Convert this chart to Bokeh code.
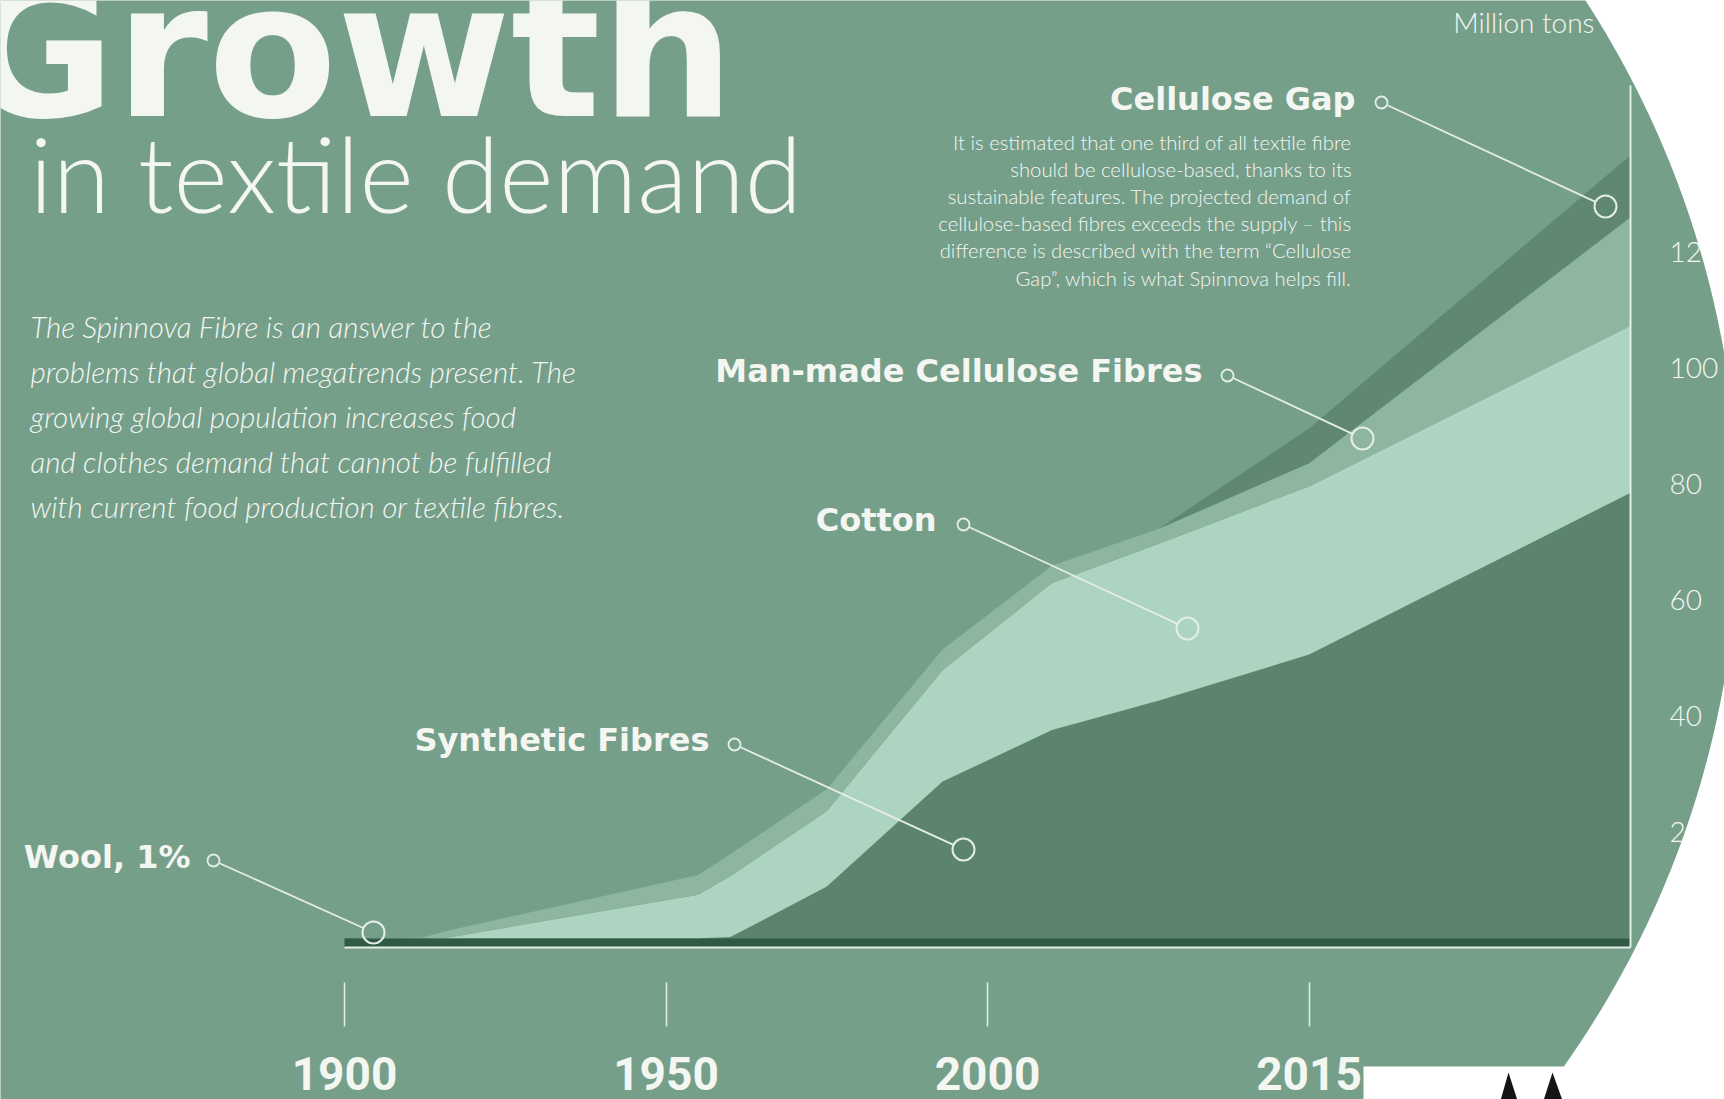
import numpy as np
from bokeh.plotting import figure
from bokeh.models import ColumnDataSource, LinearAxis, FixedTicker, Range1d
from bokeh.core.properties import value
from bokeh.embed import file_html
from bokeh.resources import INLINE

# ---------------- data (million tons) ----------------
tick_years = [1900, 1950, 2000, 2015, 2030]
tick_labels = ["1900", "1950", "2000", "2015"]
years = [1900, 1912, 1916, 1955, 1960, 1975, 1993, 2003, 2008, 2015, 2030]
wool = [1.6, 1.6, 1.6, 1.6, 1.6, 1.6, 1.6, 1.6, 1.6, 1.6, 1.6]
synthetic = [0, 0, 0, 0, 0.2, 8.9, 27.0, 35.9, 41.0, 48.9, 76.8]
cotton = [0, 0, 0.1, 7.5, 10.5, 13.0, 19.2, 25.3, 27.0, 29.0, 28.8]
mmcf = [0, 0.1, 1.2, 3.4, 3.8, 3.8, 3.6, 3.0, 2.6, 4.0, 18.7]
gap = [0, 0, 0, 0, 0, 0, 0, 0, 0, 6.0, 10.7]
y_ticks = [0, 20, 40, 60, 80, 100, 120, 140]

series_labels = ["Cellulose Gap", "Man-made Cellulose Fibres", "Cotton",
                 "Synthetic Fibres", "Wool, 1%"]
title_1 = "Growth"
title_2 = "in textile demand"
intro = ["The Spinnova Fibre is an answer to the",
         "problems that global megatrends present. The",
         "growing global population increases food",
         "and clothes demand that cannot be fulfilled",
         "with current food production or textile fibres."]
gap_note = ["It is estimated that one third of all textile fibre",
            "should be cellulose-based, thanks to its",
            "sustainable features. The projected demand of",
            "cellulose-based fibres exceeds the supply \u2013 this",
            "difference is described with the term \u201cCellulose",
            "Gap\u201d, which is what Spinnova helps fill."]
unit_label = "Million tons"

# ---------------- styles ----------------
BG = "#769f8a"
C_WOOL = "#2f5a43"
C_SYN = "#5c846c"
C_COT = "#add4c0"
C_MMCF = "#8db5a0"
C_GAP = "#608870"
WHITE = "#f4f6f2"
LINE = "#e4eee8"
BOLD = "DejaVu Sans"
LIGHT = "Lato Light"
MID = {BOLD: 0.346, LIGHT: 0.387}   # em-box middle above the baseline

W, H = 1724, 1099
OX, OY = 0, 0
PX0, PXU = 344.0, 321.5       # pixel of first category, pixels per category
PY0, PYU = 947.0, 5.8         # pixel of zero, pixels per million tons


def X(rx):
    return (np.asarray(rx, dtype=float) - PX0) / PXU


def Y(ry):
    return (PY0 - np.asarray(ry, dtype=float)) / PYU


p = figure(width=W, height=H,
           x_range=Range1d(float(X(OX)), float(X(OX + W))),
           y_range=Range1d(float(Y(OY + H)), float(Y(OY))),
           output_backend="svg", toolbar_location=None,
           x_axis_location=None, y_axis_location=None,
           min_border=0, background_fill_color=BG, border_fill_color=BG,
           outline_line_color=None)
p.grid.visible = False

# ---------------- stacked areas ----------------
xpos = np.interp(years, tick_years, np.arange(len(tick_years)))
src = ColumnDataSource(dict(x=xpos, wool=wool, synthetic=synthetic,
                            cotton=cotton, mmcf=mmcf, gap=gap))
p.varea_stack(stackers=["wool", "synthetic", "cotton", "mmcf", "gap"], x="x",
              color=[C_WOOL, C_SYN, C_COT, C_MMCF, C_GAP], source=src)

# ---------------- axes ----------------
base_ax = LinearAxis(fixed_location=0, bounds=(0, len(tick_years) - 1),
                     ticker=FixedTicker(ticks=[]),
                     axis_line_color=LINE, axis_line_width=2,
                     major_tick_line_color=None, minor_tick_line_color=None,
                     major_label_text_font_size="0px")
p.add_layout(base_ax, "below")

x_ax = LinearAxis(fixed_location=float(Y(982)),
                  ticker=FixedTicker(ticks=list(range(len(tick_labels)))),
                  major_label_overrides={i: t for i, t in enumerate(tick_labels)},
                  axis_line_color=None, major_tick_in=0, major_tick_out=44,
                  major_tick_line_color=LINE, major_tick_line_width=1.5,
                  minor_tick_line_color=None, major_label_standoff=30,
                  major_label_text_font="Roboto",
                  major_label_text_font_style="bold",
                  major_label_text_font_size="46px",
                  major_label_text_color=WHITE)
p.add_layout(x_ax, "below")

y_ax = LinearAxis(fixed_location=len(tick_years) - 1,
                  bounds=(0, float(Y(85))),
                  ticker=FixedTicker(ticks=y_ticks),
                  axis_line_color=LINE, axis_line_width=2,
                  major_tick_in=0, major_tick_out=0,
                  major_tick_line_color=None, minor_tick_line_color=None,
                  major_label_standoff=39,
                  major_label_text_font=LIGHT,
                  major_label_text_font_size="28px",
                  major_label_text_color=WHITE)
p.add_layout(y_ax, "right")

# ---------------- texts ----------------
def txt(rx, base, s, font, size, style="normal", align="left", color=WHITE):
    ry = np.asarray(base, dtype=float) - MID[font] * size
    p.text(x=list(X(rx)), y=list(Y(ry)), text=s, text_font=value(font),
           text_font_size=f"{size}px", text_font_style=style,
           text_align=align, text_baseline="middle", text_color=color)

txt([734], [115], [title_1], BOLD, 188, "bold", "right")
txt([29], [212], [title_2], LIGHT, 104)
txt([30] * len(intro), [337 + 45 * i for i in range(len(intro))], intro,
    LIGHT, 29.5, "italic")
txt([1351] * len(gap_note), [149 + 27.2 * i for i in range(len(gap_note))],
    gap_note, LIGHT, 20.3, "normal", "right")
txt([1594], [32], [unit_label], LIGHT, 28, "normal", "right")

lab_right = [1355, 1202, 936, 709, 190]
lab_base = [110, 382, 531, 751, 868]
txt(lab_right, lab_base, series_labels, BOLD, 32, "bold", "right")

# ---------------- callouts ----------------
small = np.array([(1381, 102), (1227, 375), (963, 524), (734, 744), (213, 860)], float)
big = np.array([(1605, 206), (1362, 438), (1187, 628), (963, 849), (373, 932)], float)
rs, rb = 6.0, 11.0
d = big - small
u = d / np.hypot(d[:, 0], d[:, 1])[:, None]
a = small + u * rs
b = big - u * rb
p.segment(x0=X(a[:, 0]), y0=Y(a[:, 1]), x1=X(b[:, 0]), y1=Y(b[:, 1]),
          line_color=LINE, line_width=1.8)
p.scatter(X(small[:, 0]), Y(small[:, 1]), size=2 * rs, marker="circle",
          fill_color=None, line_color=LINE, line_width=1.8)
p.scatter(X(big[:, 0]), Y(big[:, 1]), size=2 * rb, marker="circle",
          fill_color=None, line_color=LINE, line_width=2)

# ---------------- page shapes (white cut-outs) ----------------
cx, cy, R = 788.0, 517.0, 950.0
ys_px = np.linspace(-30, 1130, 240)
xs_px = cx + np.sqrt(R ** 2 - (ys_px - cy) ** 2)
px_ = np.concatenate([xs_px, [2000, 2000]])
py_ = np.concatenate([ys_px, [1130, -30]])
r1 = p.patch(X(px_), Y(py_), fill_color="white", line_color=None)
r1.level = "overlay"
r2 = p.quad(left=[float(X(1363))], right=[float(X(2000))],
            bottom=[float(Y(1130))], top=[float(Y(1066))],
            fill_color="white", line_color=None)
r2.level = "overlay"
r3 = p.patches(xs=[list(X([1500, 1508, 1517])), list(X([1543, 1552, 1562]))],
               ys=[list(Y([1100, 1072, 1100])), list(Y([1100, 1072, 1100]))],
               fill_color="#151515", line_color=None)
r3.level = "overlay"

open("out.html", "w").write(file_html(p, INLINE))
